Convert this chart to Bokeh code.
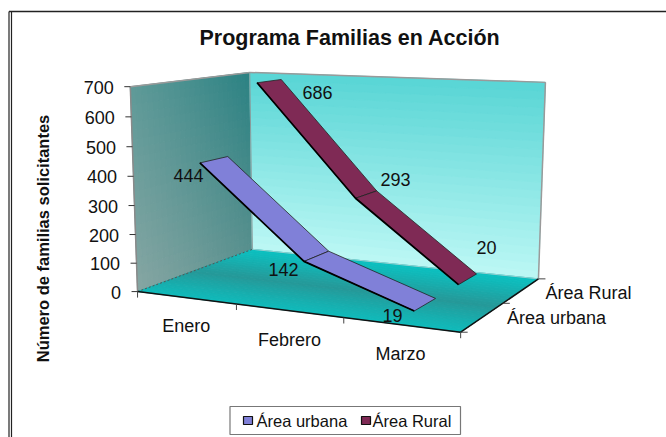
import numpy as np
from bokeh.plotting import figure
from bokeh.models import Range1d
from bokeh.embed import file_html
from bokeh.resources import INLINE
from bokeh.core.properties import value

# ---- data ----
title = "Programa Familias en Acción"
y_title = "Número de familias solicitantes"
categories = ["Enero", "Febrero", "Marzo"]
series_names = ["Área urbana", "Área Rural"]
urbana = [444, 142, 19]
rural = [686, 293, 20]
y_ticks = [0, 100, 200, 300, 400, 500, 600, 700]
y_max = 700

# ---- layout ----
W, H = 666, 437
FONT = "Liberation Sans"
box_world = [(0,0,0),(1,0,0),(0,0,1),(1,0,1),(0,1,0),(0,1,1),(1,1,1)]
box_page = [(137,291),(460,332),(252,249),(538,278),(130,86),(249,72),(545,82)]

def calibrate(world, page):
    rows = []
    for (a,b,c),(u,v) in zip(world, page):
        rows.append([a,b,c,1,0,0,0,0,-u*a,-u*b,-u*c,-u])
        rows.append([0,0,0,0,a,b,c,1,-v*a,-v*b,-v*c,-v])
    return np.linalg.svd(np.array(rows, float))[2][-1].reshape(3,4)
P = calibrate(box_world, box_page)

def proj(x, v, z):
    q = P @ np.array([x, v, z, 1.0])
    return q[0]/q[2], q[1]/q[2]

def quad(c1, c2, c3, c4):
    pts = [proj(*c) for c in (c1,c2,c3,c4)]
    return [p[0] for p in pts], [p[1] for p in pts]

def hex2rgb(h):
    return np.array([int(h[i:i+2],16) for i in (1,3,5)], float)
def rgb2hex(c):
    return "#%02x%02x%02x" % tuple(int(round(t)) for t in c)
def mix(a, b, t):
    return hex2rgb(a)*(1-t) + hex2rgb(b)*t

p = figure(width=W, height=H, x_range=Range1d(0, W), y_range=Range1d(H, 0),
           output_backend="svg", toolbar_location=None, min_border=0,
           background_fill_color="white", border_fill_color="white", outline_line_color=None)
p.axis.visible = False
p.grid.visible = False

def strips(cells, cols):
    xs = [c[0] for c in cells]; ys = [c[1] for c in cells]
    p.patches(xs, ys, fill_color=cols, line_color=cols, line_width=1)

N = 24
cells, cols = [], []
for i in range(N):
    for j in range(N):
        z0, z1, v0, v1 = i/N, (i+1)/N, j/N, (j+1)/N
        cells.append(quad((0,v0,z0),(0,v0,z1),(0,v1,z1),(0,v1,z0)))
        zm, vm = (z0+z1)/2, (v0+v1)/2
        top = mix("#5f9a98", "#2b8283", zm)
        bot = mix("#86a6a3", "#568f8d", zm)
        cols.append(rgb2hex(bot*(1-vm)+top*vm))
strips(cells, cols)
cells, cols = [], []
for j in range(N):
    v0, v1 = j/N, (j+1)/N
    cells.append(quad((0,v0,1),(1,v0,1),(1,v1,1),(0,v1,1)))
    cols.append(rgb2hex(mix("#bdf8f5", "#58d5d5", (v0+v1)/2)))
strips(cells, cols)
cells, cols = [], []
for j in range(N):
    z0, z1 = j/N, (j+1)/N
    cells.append(quad((0,0,z0),(1,0,z0),(1,0,z1),(0,0,z1)))
    zm = (z0+z1)/2
    t = 1-abs(zm-0.45)/0.55
    cols.append(rgb2hex(mix("#0cc0c0", "#269898", t**1.2)))
strips(cells, cols)

def edge(a, b, color, width, dash="solid"):
    pa, pb = proj(*a), proj(*b)
    p.line([pa[0], pb[0]], [pa[1], pb[1]], line_color=color, line_width=width, line_dash=dash)
edge((0,1,0),(0,1,1),"#9a9a9a",1.5)
edge((0,1,1),(1,1,1),"#9a9a9a",1.5)
edge((1,1,1),(1,0,1),"#9a9a9a",1.5)
edge((0,1,1),(0,0,1),"#8a9a9a",1)
edge((0,1,0),(0,0,0),"#8a8a8a",1.5)
edge((0,0,1),(1,0,1),"#9ad0d0",1)
edge((0,0,0),(0,0,1),"#555555",1,"2 2")
edge((0,0,0),(1,0,0),"#111111",1.5)
edge((1,0,0),(1,0,1),"#111111",1.5)

DEPTH = {0: (0.135, 0.365), 1: (0.635, 0.865)}
XPOS = [(i+0.5)/len(categories) for i in range(len(categories))]
def ribbon(vals, idx, color):
    z0, z1 = DEPTH[idx]
    xs, ys = [], []
    for i in range(len(vals)-1):
        a, b = vals[i]/y_max, vals[i+1]/y_max
        qx, qy = quad((XPOS[i],a,z0),(XPOS[i+1],b,z0),(XPOS[i+1],b,z1),(XPOS[i],a,z1))
        xs.append(qx); ys.append(qy)
    p.patches(xs, ys, fill_color=color, line_color="#222222", line_width=0.8)
    f = [proj(XPOS[i], vals[i]/y_max, z0) for i in range(len(vals))]
    p.line([q[0] for q in f], [q[1] for q in f], line_color="#000000", line_width=1.8)
ribbon(rural, 1, "#7f2a55")
ribbon(urbana, 0, "#8080d8")

for t in y_ticks:
    a = proj(0, t/y_max, 0)
    p.line([a[0]-6, a[0]], [a[1], a[1]], line_color="#333333", line_width=1)
for k in range(len(categories)+1):
    a = proj(k/len(categories), 0, 0)
    p.line([a[0], a[0]], [a[1], a[1]+6], line_color="#444444", line_width=1)
for k in range(len(series_names)+1):
    a = proj(1, 0, k/len(series_names))
    p.line([a[0], a[0]+7], [a[1], a[1]], line_color="#444444", line_width=1)

def txt(x, y, s, size, style="normal", align="center", angle=0.0):
    p.text([x], [y], text=[s], text_font=value(FONT), text_font_size=size, text_font_style=style,
           text_align=align, text_baseline="middle", text_color="#111111", angle=angle)

txt(349.5, 37, title, "21.5px", "bold")
txt(42.5, 238, y_title, "16.5px", "bold", angle=np.pi/2)
for t in y_ticks:
    a = proj(0, t/y_max, 0)
    txt(a[0]-16.5, a[1]+0.5, str(t), "18px", align="right")
cat_pos = [(185.7, 325), (289, 339), (400, 353)]
for c, (x, y) in zip(categories, cat_pos):
    txt(x, y, c, "18px")
series_pos = [(556, 317), (588, 292)]
for c, (x, y) in zip(series_names, series_pos):
    txt(x, y, c, "18px")
label_pos = {0: [(188,175),(283,269),(392,315)], 1: [(317,92),(395,179),(486,247)]}
for idx, vals in enumerate((urbana, rural)):
    for v, (x, y) in zip(vals, label_pos[idx]):
        txt(x, y, str(v), "18px")

p.quad(left=[229.5], right=[460], top=[406], bottom=[434], fill_color="white", line_color="#777777", line_width=1.2)
for name, color, sx, tx in zip(series_names, ["#8080d8", "#7f2a55"], [243, 361], [256, 372]):
    p.quad(left=[sx], right=[sx+9], top=[416], bottom=[424], fill_color=color, line_color="#111111", line_width=1.2)
    txt(tx, 420.5, name, "16.5px", align="left")

frame = dict(line_color="#222222")
p.line([8.5, 8.5], [11, H], line_width=1.2, **frame)
p.line([11, 11], [11, H], line_width=1.2, **frame)
p.line([8.5, W], [11, 11], line_width=1.6, **frame)

open("out.html", "w").write(file_html(p, INLINE))
